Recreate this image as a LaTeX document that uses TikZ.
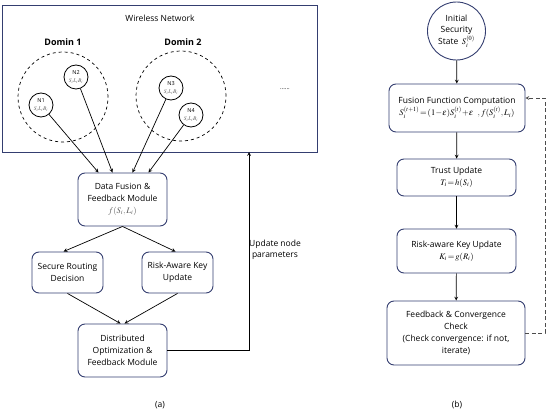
\documentclass[tikz,border=0pt]{standalone}
\usepackage{mathptmx}
\usepackage{fontspec}
\setmainfont{Open Sans}
\usepackage{xcolor}
\usepackage{tikz}
\usetikzlibrary{positioning}

\definecolor{boxblue}{RGB}{52,62,112}
\definecolor{mathgray}{RGB}{90,90,90}

\tikzset{
	block/.style={draw=boxblue, line width=0.9pt, rounded corners=7pt, align=center, font=\fontsize{8.5}{12}\selectfont, inner sep=2pt},
	sensor/.style={circle, draw, line width=0.8pt, minimum size=24pt, inner sep=0pt, align=center, font=\fontsize{5.5}{6.5}\selectfont},
	zonecircle/.style={circle, draw, dashed, line width=0.7pt, minimum size=90pt},
	conn/.style={-stealth, line width=0.7pt},
}

\begin{document}
\begin{tikzpicture}[x=1pt, y=-1pt]
		\useasboundingbox (0,0) rectangle (550,412);

		% (a) wireless network
		\node[draw=boxblue, line width=0.9pt, minimum width=315pt, minimum height=147pt] (net) at (159.5,78.5) {};
		\node[font=\fontsize{8.5}{10}\selectfont] (nettitle) at (160,18) {Wireless Network};
		\node[font=\bfseries\fontsize{9}{11}\selectfont] (dlabA) at (63,42) {Domin 1};
		\node[font=\bfseries\fontsize{9}{11}\selectfont] (dlabB) at (183,42) {Domin 2};
		\node[zonecircle] (domA) at (63,97) {};
		\node[zonecircle] (domB) at (181,96) {};
		\node[font=\fontsize{6}{8}\selectfont] (more) at (285,89) {......};

		\node[sensor] (n1) at (41,105) {N1\\[1pt]\textcolor{mathgray}{$S_iL_iB_i$}};
		\node[sensor] (n2) at (76,77) {N2\\[1pt]\textcolor{mathgray}{$S_iL_iB_i$}};
		\node[sensor] (n3) at (171,88) {N3\\[1pt]\textcolor{mathgray}{$S_iL_iB_i$}};
		\node[sensor] (n4) at (191,115) {N4\\[1pt]\textcolor{mathgray}{$S_iL_iB_i$}};

		\node[block, minimum width=89pt, minimum height=53pt] (fusion) at (122.5,199.5) {Data Fusion \&\\Feedback Module\\\textcolor{mathgray}{$f(S_i,L_i)$}};
		\node[block, minimum width=71pt, minimum height=41pt] (route) at (67.5,272.5) {Secure Routing\\Decision};
		\node[block, minimum width=71pt, minimum height=41pt] (key) at (177.5,272.5) {Risk-Aware Key\\Update};
		\node[block, minimum width=89pt, minimum height=53pt] (opt) at (122.5,350.5) {Distributed\\Optimization \&\\Feedback Module};

		\draw[conn] (n1) -- ([xshift=-24pt]fusion.north);
		\draw[conn] (n2) -- ([xshift=-10pt]fusion.north);
		\draw[conn] (n3) -- ([xshift=10pt]fusion.north);
		\draw[conn] (n4) -- ([xshift=26pt]fusion.north);

		\draw[conn] (fusion.south) -- ([xshift=-4pt]route.north);
		\draw[conn] (fusion.south) -- ([xshift=-2pt]key.north);
		\draw[conn] (route.south) -- ([xshift=-2pt]opt.north);
		\draw[conn] (key.south) -- ([xshift=2pt]opt.north);

		\coordinate (upd) at (249,152);
		\draw[conn] (opt.east) -| (upd);
		\node[align=center, font=\fontsize{8.5}{11}\selectfont] (updlabel) at (275,250) {Update node\\parameters};

		\node[font=\fontsize{8.5}{10}\selectfont] (capA) at (160,405) {(a)};

		% (b) iteration loop
		\node[circle, draw=boxblue, line width=0.9pt, minimum size=58pt, inner sep=0pt, align=center, font=\fontsize{8.5}{11}\selectfont] (init) at (456.5,31) {Initial\\Security\\State \,$S_i^{(0)}$};
		\node[block, minimum width=136pt, minimum height=48pt] (comp) at (457,108) {Fusion Function Computation\\$S_i^{(t+1)}\!=\!(1\!-\!\epsilon)S_i^{(t)}\!+\!\epsilon\ \ ,f(S_i^{(t)},L_i)$};
		\node[block, minimum width=119pt, minimum height=37pt] (trust) at (456.5,177.5) {Trust Update\\$T_i\!=\!h(S_i)$};
		\node[block, minimum width=119pt, minimum height=44pt] (rkey) at (456.5,251) {Risk-aware Key Update\\$K_i\!=\!g(R_i)$};
		\node[block, minimum width=138pt, minimum height=64pt] (check) at (456,333) {Feedback \& Convergence\\Check\\(Check convergence: if not,\\iterate)};

		\draw[conn] (init) -- (comp);
		\draw[conn] (comp) -- (trust);
		\draw[conn] (trust) -- (rkey);
		\draw[conn] (rkey) -- (check);

		\coordinate (loop) at (545,98);
		\draw[conn, dash pattern=on 4pt off 2.5pt, draw=black!70] (check.east) -| (loop) -- (comp.east |- loop);

		\node[font=\fontsize{8.5}{10}\selectfont] (capB) at (457,405) {(b)};
	\end{tikzpicture}
\end{document}
